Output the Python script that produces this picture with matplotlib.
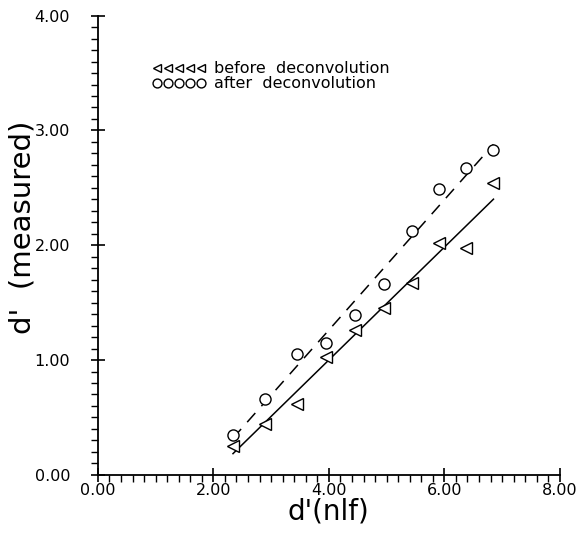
import numpy as np
import matplotlib
matplotlib.use("Agg")
import matplotlib.pyplot as plt
from matplotlib.ticker import MultipleLocator, FormatStrFormatter

# d'(nlf) values and measured d' before / after deconvolution
x_nlf = [2.34, 2.89, 3.44, 3.95, 4.46, 4.96, 5.44, 5.91, 6.38, 6.85]
before = [0.25, 0.44, 0.62, 1.03, 1.26, 1.45, 1.67, 2.02, 1.98, 2.54]
after = [0.35, 0.66, 1.05, 1.15, 1.39, 1.66, 2.12, 2.49, 2.67, 2.83]

plt.rcParams['font.family'] = ['DejaVu Sans']

fig = plt.figure(figsize=(5.79, 5.39), dpi=100)
ax = fig.add_axes([0.169, 0.119, 0.798, 0.852])

# data points
ax.plot(x_nlf, before, linestyle="none", marker="<", markersize=8,
        markerfacecolor="white", markeredgecolor="black", markeredgewidth=1.0,
        label="before  deconvolution")
ax.plot(x_nlf, after, linestyle="none", marker="o", markersize=8,
        markerfacecolor="white", markeredgecolor="black", markeredgewidth=1.0,
        label="after  deconvolution")

# linear fits through each set
xs = np.array([x_nlf[0], x_nlf[-1]])
pb = np.polyfit(x_nlf, before, 1)
pa = np.polyfit(x_nlf, after, 1)
ax.plot(xs, np.polyval(pb, xs), color="black", linewidth=1.1, linestyle="-", zorder=1)
ax.plot(xs, np.polyval(pa, xs), color="black", linewidth=1.1, linestyle=(0, (8, 6)), zorder=1)

ax.set_xlim(0, 8)
ax.set_ylim(0, 4)
ax.spines['top'].set_visible(False)
ax.spines['right'].set_visible(False)
ax.spines['left'].set_linewidth(1.3)
ax.spines['bottom'].set_linewidth(1.3)

ax.xaxis.set_major_locator(MultipleLocator(2))
ax.xaxis.set_minor_locator(MultipleLocator(0.2))
ax.yaxis.set_major_locator(MultipleLocator(1))
ax.yaxis.set_minor_locator(MultipleLocator(0.1))
ax.xaxis.set_major_formatter(FormatStrFormatter('%.2f'))
ax.yaxis.set_major_formatter(FormatStrFormatter('%.2f'))
ax.tick_params(which="major", direction="inout", length=10, width=1.2, labelsize=11.5)
ax.tick_params(which="minor", direction="out", length=5, width=1.0)
ax.tick_params(axis="y", which="major", pad=15)
ax.tick_params(axis="x", which="major", pad=1)

ax.set_xlabel("d'(nlf)", fontsize=20)
ax.xaxis.set_label_coords(0.5, -0.05)
ax.set_ylabel("d'  (measured)", fontsize=21)
ax.yaxis.set_label_coords(-0.132, 0.54)

leg = ax.legend(loc="upper left", bbox_to_anchor=(0.118, 0.901), frameon=False,
                numpoints=5, markerscale=0.8, handlelength=3.35, handletextpad=0.5,
                labelspacing=0.0, borderpad=0, borderaxespad=0, fontsize=11.5)

fig.savefig("out.png", dpi=100)
